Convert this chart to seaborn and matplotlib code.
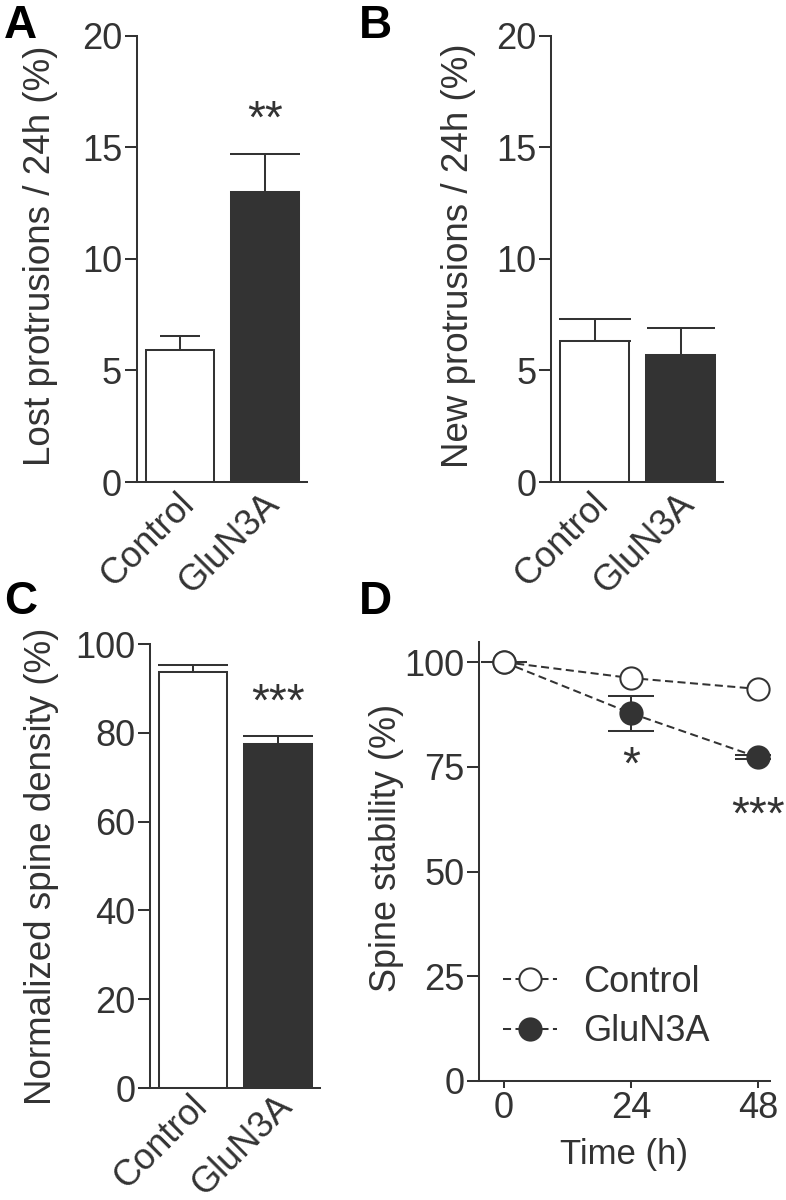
import numpy as np
import pandas as pd
import matplotlib
matplotlib.use('Agg')
import matplotlib.pyplot as plt
import matplotlib.transforms as mtransforms
import seaborn as sns

# ---- data ----
groups = ['Control', 'GluN3A']

lost_mean = [5.9, 13.0]
lost_sem = [0.65, 1.7]

new_mean = [6.3, 5.7]
new_sem = [1.0, 1.2]

density_mean = [93.7, 77.5]
density_sem = [1.6, 1.8]

time_h = [0, 24, 48]
stab_ctrl = [100.0, 96.2, 93.6]
stab_glun = [100.0, 87.8, 77.3]
stab_glun_sem = [0.0, 4.2, 0.5]

# ---- style ----
sns.set_style('ticks')
plt.rcParams['font.family'] = ['Liberation Sans', 'DejaVu Sans']
dark = '#333333'
fill = ['white', '#333333']
fs_tick = 26
fs_xcat = 26
fs_lab = 26.5
fs_star = 33
lw = 1.45

plt.rcParams.update({
    'axes.edgecolor': dark, 'axes.linewidth': lw,
    'xtick.color': dark, 'ytick.color': dark,
    'text.color': dark, 'axes.labelcolor': dark,
})

fig = plt.figure(figsize=(7.86, 12), dpi=100)
axA = fig.add_axes([0.1739, 0.5983, 0.2167, 0.3719])
axB = fig.add_axes([0.7010, 0.5983, 0.2188, 0.3719])
axC = fig.add_axes([0.1908, 0.0933, 0.2163, 0.3700])
axD = fig.add_axes([0.6094, 0.0992, 0.3702, 0.3658])


def bar_panel(ax, means, sems, ylim, yticks, ylabel, caps, nudge_up=0):
    sns.barplot(x=groups, y=means, hue=groups, palette=fill, legend=False,
                edgecolor=dark, linewidth=lw, width=0.8, errorbar=None,
                ax=ax, zorder=2)
    for i, (m, s) in enumerate(zip(means, sems)):
        ax.errorbar(i, m, yerr=[[0], [s]], fmt='none', ecolor=dark,
                    elinewidth=lw, capsize=caps[i], capthick=lw, zorder=1)
    ax.set_xlim(-0.51, 1.49)
    ax.set_ylim(*ylim)
    ax.set_yticks(yticks)
    ax.tick_params(axis='y', length=9, width=lw, labelsize=fs_tick, pad=1.5)
    ax.tick_params(axis='x', length=0, labelsize=fs_xcat, pad=3)
    ax.set_xticks([0, 1])
    ax.set_xticklabels(groups, rotation=45, ha='right', rotation_mode='anchor')
    # rotated category labels sit a few pixels left of the bar centres
    shift = mtransforms.ScaledTranslation(-4 / 100, nudge_up / 100, fig.dpi_scale_trans)
    for t in ax.get_xticklabels():
        t.set_transform(t.get_transform() + shift)
    ax.set_xlabel('')
    ax.set_ylabel(ylabel, fontsize=fs_lab)
    sns.despine(ax=ax)


bar_panel(axA, lost_mean, lost_sem, (0, 20), [0, 5, 10, 15, 20],
          'Lost protrusions / 24h (%)', [14.5, 25])
bar_panel(axB, new_mean, new_sem, (0, 20), [0, 5, 10, 15, 20],
          'New protrusions / 24h (%)', [26, 24.5])
bar_panel(axC, density_mean, density_sem, (0, 100), [0, 20, 40, 60, 80, 100],
          'Normalized spine density (%)', [25, 25], nudge_up=4)

axA.yaxis.set_label_coords(-0.462, 0.508)
axB.yaxis.set_label_coords(-0.436, 0.506)
axC.yaxis.set_label_coords(-0.535, 0.5)

# significance stars above the error bars
axA.annotate('**', (1, lost_mean[1] + lost_sem[1]), xytext=(0, 24),
             textcoords='offset points', ha='center', va='center', fontsize=fs_star)
axC.annotate('***', (1, density_mean[1] + density_sem[1]), xytext=(0, 23),
             textcoords='offset points', ha='center', va='center', fontsize=fs_star)

# ---- panel D ----
dash = (0, (4, 2.2))
axD.errorbar(time_h, stab_glun, yerr=stab_glun_sem, fmt='none', ecolor=dark,
             elinewidth=lw, capsize=16.5, capthick=lw, zorder=2)
sns.lineplot(x=time_h, y=stab_ctrl, ax=axD, color=dark, lw=lw, linestyle=dash,
             marker='o', markersize=16, markerfacecolor='white',
             markeredgecolor=dark, markeredgewidth=lw, label='Control', zorder=4)
sns.lineplot(x=time_h, y=stab_glun, ax=axD, color=dark, lw=lw, linestyle=dash,
             marker='o', markersize=16, markerfacecolor=dark,
             markeredgecolor=dark, markeredgewidth=lw, label='GluN3A', zorder=3)
axD.set_xlim(-4.7, 50.3)
axD.set_ylim(0, 104.8)
axD.set_xticks(time_h)
axD.set_yticks([0, 25, 50, 75, 100])
axD.tick_params(axis='y', length=9, width=lw, labelsize=fs_tick, pad=1.5)
axD.tick_params(axis='x', length=5, width=lw, labelsize=fs_tick, pad=2)
axD.set_xlabel('Time (h)', fontsize=25, labelpad=9)
axD.set_ylabel('Spine stability (%)', fontsize=fs_lab - 0.5)
axD.yaxis.set_label_coords(-0.258, 0.531)
sns.despine(ax=axD)

axD.annotate('*', (24, stab_glun[1] - stab_glun_sem[1]), xytext=(0, -25.7),
             textcoords='offset points', ha='center', va='center', fontsize=fs_star)
axD.annotate('***', (48, stab_glun[2]), xytext=(0, -43),
             textcoords='offset points', ha='center', va='center', fontsize=fs_star)

leg = axD.legend(loc='center left', bbox_to_anchor=(0.0825, 0.168), frameon=False,
                 fontsize=26, markerscale=1.0, handlelength=1.5,
                 handletextpad=0.72, labelspacing=0.4, borderpad=0,
                 borderaxespad=0)

# panel letters
for lab, (x, y) in zip('ABCD', [(0.005, 0.997), (0.457, 0.997),
                                (0.005, 0.517), (0.457, 0.517)]):
    fig.text(x, y, lab, fontsize=33, fontweight='bold', color='black',
             ha='left', va='top')

fig.savefig('out.png', dpi=100)
